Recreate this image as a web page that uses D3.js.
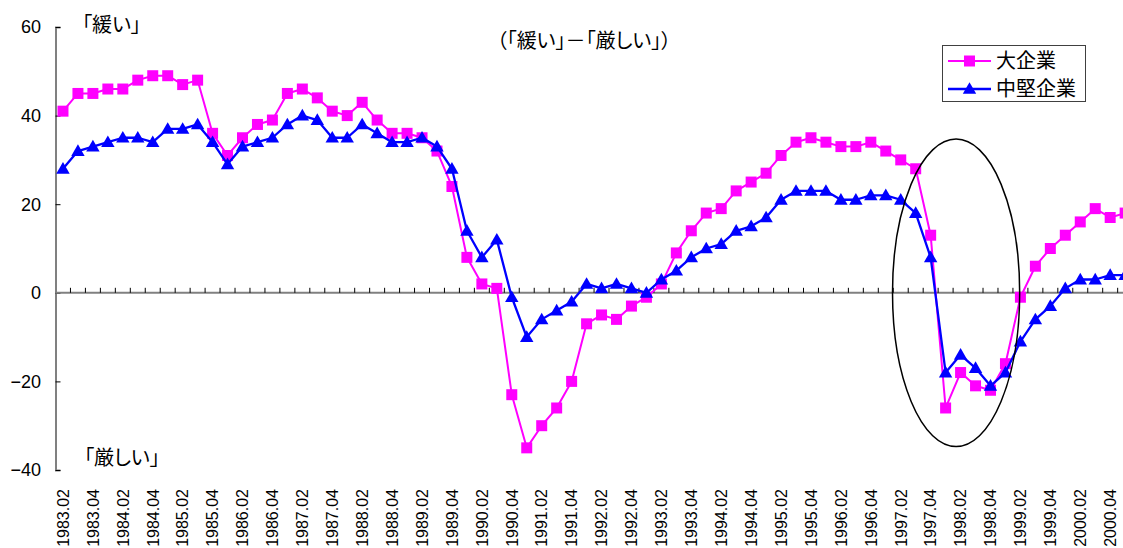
<!DOCTYPE html>
<html>
<head>
<meta charset="utf-8">
<script src="https://cdn.jsdelivr.net/npm/d3@7"></script>
<style>
  body { margin: 0; background: #fff; }
  svg { display: block; }
  .num { font-family: "Liberation Sans", Arial, sans-serif; }
  .jp { font-family: "Noto Sans CJK JP", sans-serif; font-feature-settings: "palt"; }
  .wide { font-feature-settings: normal; }
</style>
</head>
<body>
<svg id="chart" width="1123" height="548"></svg>
<script>
// 業況判断DI（「緩い」−「厳しい」）、四半期
const quarters = [
  "1983.02","1983.03","1983.04",
  "1984.01","1984.02","1984.03","1984.04",
  "1985.01","1985.02","1985.03","1985.04",
  "1986.01","1986.02","1986.03","1986.04",
  "1987.01","1987.02","1987.03","1987.04",
  "1988.01","1988.02","1988.03","1988.04",
  "1989.01","1989.02","1989.03","1989.04",
  "1990.01","1990.02","1990.03","1990.04",
  "1991.01","1991.02","1991.03","1991.04",
  "1992.01","1992.02","1992.03","1992.04",
  "1993.01","1993.02","1993.03","1993.04",
  "1994.01","1994.02","1994.03","1994.04",
  "1995.01","1995.02","1995.03","1995.04",
  "1996.01","1996.02","1996.03","1996.04",
  "1997.01","1997.02","1997.03","1997.04",
  "1998.01","1998.02","1998.03","1998.04",
  "1999.01","1999.02","1999.03","1999.04",
  "2000.01","2000.02","2000.03","2000.04",
  "2001.01"
];

const largeFirms = [
  41, 45, 45,
  46, 46, 48, 49,
  49, 47, 48, 36,
  31, 35, 38, 39,
  45, 46, 44, 41,
  40, 43, 39, 36,
  36, 35, 32, 24,
  8, 2, 1, -23,
  -35, -30, -26, -20,
  -7, -5, -6, -3,
  -1, 2, 9, 14,
  18, 19, 23, 25,
  27, 31, 34, 35,
  34, 33, 33, 34,
  32, 30, 28, 13,
  -26, -18, -21, -22,
  -16, -1, 6, 10,
  13, 16, 19, 17,
  18
];

const midFirms = [
  28, 32, 33,
  34, 35, 35, 34,
  37, 37, 38, 34,
  29, 33, 34, 35,
  38, 40, 39, 35,
  35, 38, 36, 34,
  34, 35, 33, 28,
  14, 8, 12, -1,
  -10, -6, -4, -2,
  2, 1, 2, 1,
  0, 3, 5, 8,
  10, 11, 14, 15,
  17, 21, 23, 23,
  23, 21, 21, 22,
  22, 21, 18, 8,
  -18, -14, -17, -21,
  -18, -11, -6, -3,
  1, 3, 3, 4,
  4
];

const yTicks = [-40, -20, 0, 20, 40, 60];
const seriesNames = ["大企業", "中堅企業"];
const seriesColors = ["#ff00ff", "#0000ff"];

// 1997〜98年の急落局面を囲む楕円（カテゴリ位置と値で指定）
const focusCenter = { index: 59.7, value: 0 };
const focusRadius = { cats: 4.25, value: 34.7 };

const svg = d3.select("#chart");

const step = 14.96;
const x = d3.scaleBand()
  .domain(quarters)
  .range([55.5, 55.5 + step * quarters.length])
  .padding(0);
const cx = d => x(d) + x.bandwidth() / 2;

const y = d3.scaleLinear().domain([-40, 60]).range([470, 27]);

// 縦軸
const yAxis = d3.axisRight(y).tickValues(yTicks).tickSize(5).tickFormat("");
const gy = svg.append("g").attr("transform", `translate(${x.range()[0]},0)`).call(yAxis);
gy.select(".domain").attr("stroke", "#808080").attr("stroke-width", 2);
gy.selectAll(".tick line").attr("stroke", "#000").attr("stroke-width", 1);

svg.append("g").selectAll("text")
  .data(yTicks)
  .join("text")
  .attr("class", "num")
  .attr("x", 41)
  .attr("y", d => y(d))
  .attr("dy", "0.36em")
  .attr("text-anchor", "end")
  .attr("font-size", 18)
  .attr("fill", "#000")
  .text(d => d < 0 ? "\u2212" + Math.abs(d) : String(d));

// 横軸（ゼロ線）と目盛り
const y0 = y(0);
svg.append("line")
  .attr("x1", x.range()[0]).attr("x2", x.range()[1])
  .attr("y1", y0).attr("y2", y0)
  .attr("stroke", "#808080").attr("stroke-width", 2);

svg.append("g").selectAll("line")
  .data(quarters.slice(1))
  .join("line")
  .attr("x1", d => x(d)).attr("x2", d => x(d))
  .attr("y1", y0).attr("y2", y0 - 5)
  .attr("stroke", "#000").attr("stroke-width", 1);

// 横軸ラベル（1期おき）
svg.append("g").selectAll("text")
  .data(quarters.filter((d, i) => i % 2 === 0))
  .join("text")
  .attr("class", "num")
  .attr("transform", d => `translate(${cx(d)},489) rotate(-90)`)
  .attr("dy", "0.36em")
  .attr("text-anchor", "end")
  .attr("font-size", 16)
  .attr("fill", "#000")
  .text(d => d);

// 系列
const seriesData = [largeFirms, midFirms];
const line = d3.line().x((d, i) => cx(quarters[i])).y(d => y(d));

seriesData.forEach((vals, s) => {
  const g = svg.append("g");
  g.append("path")
    .datum(vals)
    .attr("d", line)
    .attr("fill", "none")
    .attr("stroke", seriesColors[s])
    .attr("stroke-width", s === 0 ? 2 : 2.3)
    .attr("stroke-linejoin", "round");
  const sym = d3.symbol()
    .type(s === 0 ? d3.symbolSquare : d3.symbolTriangle)
    .size(s === 0 ? 121 : 78);
  g.selectAll("path.mk")
    .data(vals)
    .join("path")
    .attr("class", "mk")
    .attr("d", sym)
    .attr("transform", (d, i) => `translate(${cx(quarters[i])},${y(d) + (s === 1 ? 1 : 0)})`)
    .attr("fill", seriesColors[s]);
});

// 楕円
const ecx = x.range()[0] + (focusCenter.index + 0.5) * x.step();
svg.append("ellipse")
  .attr("cx", ecx)
  .attr("cy", y(focusCenter.value))
  .attr("rx", focusRadius.cats * x.step())
  .attr("ry", y(0) - y(focusRadius.value))
  .attr("fill", "none")
  .attr("stroke", "#000")
  .attr("stroke-width", 1.5);

// 注記
svg.append("text").attr("class", "jp").attr("x", 82).attr("y", 32)
  .attr("font-size", 20).attr("fill", "#000").text("「緩い」");
svg.append("text").attr("class", "jp").attr("x", 84).attr("y", 465)
  .attr("font-size", 20).attr("fill", "#000").text("「厳しい」");
const title = svg.append("text").attr("class", "jp").attr("x", 584).attr("y", 48)
  .attr("text-anchor", "middle")
  .attr("font-size", 20).attr("fill", "#000");
title.append("tspan").text("（「緩い」");
title.append("tspan").attr("class", "wide").text("－");
title.append("tspan").text("「厳しい」）");

// 凡例
const lg = svg.append("g");
lg.append("rect")
  .attr("x", 942.5).attr("y", 45.5).attr("width", 143).attr("height", 56)
  .attr("fill", "#fff").attr("stroke", "#404040").attr("stroke-width", 1);
seriesNames.forEach((name, s) => {
  const ly = 61 + s * 28;
  lg.append("line")
    .attr("x1", 948).attr("x2", 991).attr("y1", ly).attr("y2", ly)
    .attr("stroke", seriesColors[s]).attr("stroke-width", s === 0 ? 2 : 2.3);
  lg.append("path")
    .attr("d", d3.symbol().type(s === 0 ? d3.symbolSquare : d3.symbolTriangle).size(s === 0 ? 121 : 78))
    .attr("transform", `translate(969.5,${ly + (s === 1 ? 1 : 0)})`)
    .attr("fill", seriesColors[s]);
  lg.append("text")
    .attr("class", "jp")
    .attr("x", 996).attr("y", ly).attr("dy", "0.36em")
    .attr("font-size", 20).attr("fill", "#000")
    .text(name);
});
</script>
</body>
</html>
